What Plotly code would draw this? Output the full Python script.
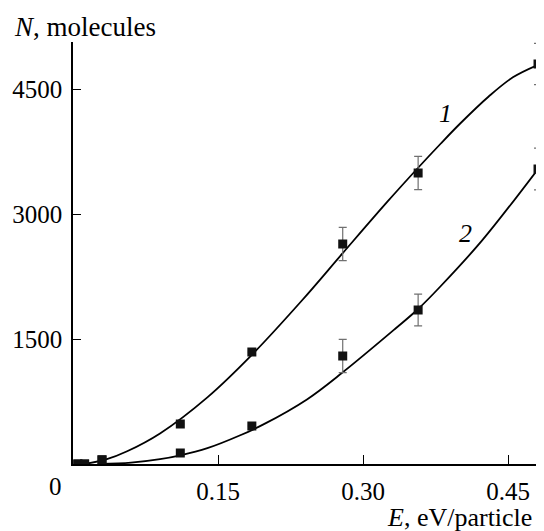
import plotly.graph_objects as go

# Measured points (E, eV/particle; N, molecules)
pts_E = [0.005, 0.012, 0.030, 0.111, 0.185, 0.279, 0.357, 0.481]
s1_N = [0, 0, 50, 480, 1344, 2640, 3492, 4800]
s1_err = [0, 0, 0, 0, 0, 200, 200, 248]
s2_N = [0, 0, 50, 132, 456, 1296, 1848, 3540]
s2_err = [0, 0, 0, 0, 0, 200, 190, 250]

# Fitted curves
c1_E = [0.012, 0.035, 0.056, 0.090, 0.139, 0.185, 0.237, 0.279, 0.325, 0.357, 0.380, 0.400, 0.430, 0.455, 0.481]
c1_N = [0, 58, 153, 367, 800, 1310, 1965, 2530, 3145, 3555, 3840, 4080, 4410, 4640, 4790]
c2_E = [0.028, 0.060, 0.090, 0.111, 0.139, 0.173, 0.197, 0.242, 0.279, 0.333, 0.357, 0.380, 0.423, 0.481]
c2_N = [0, 16, 58, 104, 190, 345, 475, 775, 1100, 1620, 1860, 2130, 2680, 3540]

x_ticks = [0.15, 0.30, 0.45]
x_ticktext = ["0.15", "0.30", "0.45"]
y_ticks = [1500, 3000, 4500]
y_ticktext = ["1500", "3000", "4500"]

FONT = "Liberation Serif"
fig = go.Figure()

fig.add_trace(go.Scatter(x=c1_E, y=c1_N, mode="lines", line=dict(color="black", width=1.8, shape="spline"),
                         hoverinfo="skip", showlegend=False))
fig.add_trace(go.Scatter(x=c2_E, y=c2_N, mode="lines", line=dict(color="black", width=1.8, shape="spline"),
                         hoverinfo="skip", showlegend=False))

for N, err in [(s1_N, s1_err), (s2_N, s2_err)]:
    fig.add_trace(go.Scatter(
        x=pts_E, y=N, mode="markers",
        marker=dict(symbol="square", size=9, color="#111111"),
        error_y=dict(type="data", array=err, visible=True, color="#707070", thickness=1.2, width=4),
        showlegend=False))

# page body has an 8px margin, so the figure is sized to end at the window edge
fig.update_layout(
    width=536, height=523,
    margin=dict(l=65, r=0, t=34, b=67),
    plot_bgcolor="white", paper_bgcolor="white",
    font=dict(family=FONT, size=25, color="black"),
    xaxis=dict(range=[0, 0.4872], showline=True, linecolor="black", linewidth=1.5,
               ticks="inside", ticklen=9, tickwidth=1.2, tickcolor="black",
               tickvals=x_ticks, ticktext=x_ticktext, showgrid=False, zeroline=False,
               ticklabelstandoff=4),
    yaxis=dict(range=[0, 5064], showline=True, linecolor="black", linewidth=1.5,
               ticks="inside", ticklen=8, tickwidth=1.2, tickcolor="black",
               tickvals=y_ticks, ticktext=y_ticktext, showgrid=False, zeroline=False,
               ticklabelstandoff=4),
    annotations=[
        dict(text="0", xref="paper", yref="paper", x=-0.037, y=-0.0545, showarrow=False,
             xanchor="center", yanchor="middle", font=dict(family=FONT, size=25)),
        dict(text="<i>N</i>, molecules", xref="paper", yref="paper", x=-0.13, y=-0.004,
             showarrow=False, xanchor="left", yanchor="bottom", font=dict(family=FONT, size=27),
             yshift=422),
        dict(text="<i>E</i>, eV/particle", xref="paper", yref="paper", x=0.978, y=-0.127,
             showarrow=False, xanchor="right", yanchor="middle", font=dict(family=FONT, size=26)),
        dict(text="<i>1</i>", x=0.385, y=4212, xref="x", yref="y", showarrow=False,
             font=dict(family=FONT, size=26)),
        dict(text="<i>2</i>", x=0.406, y=2772, xref="x", yref="y", showarrow=False,
             font=dict(family=FONT, size=26)),
    ],
)

fig.write_html("out.html")
